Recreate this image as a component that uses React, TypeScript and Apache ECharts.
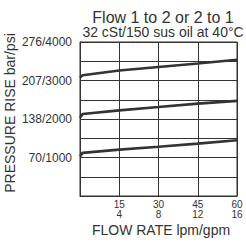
import React, { useEffect, useRef } from "react";
import * as echarts from "echarts";

const flowLpm = [0, 1, 15, 30, 45, 60];
const topCurve = [3080, 3135, 3260, 3350, 3440, 3540];
const midCurve = [2030, 2130, 2225, 2310, 2400, 2470];
const lowCurve = [1030, 1120, 1205, 1280, 1360, 1450];

const xTicks = [15, 30, 45, 60];
const xTickLpm = ["15", "30", "45", "60"];
const xTickGpm = ["4", "8", "12", "16"];
const yTicks = [1000, 2000, 3000, 4000];
const yTickLabels = ["70/1000", "138/2000", "207/3000", "276/4000"];

const FONT = "Liberation Sans, Arial, sans-serif";
const INK = "#333333";

export default function App() {
  const ref = useRef<HTMLDivElement>(null);
  useEffect(() => {
    if (!ref.current) return;
    const chart = echarts.init(ref.current, undefined, { renderer: "svg" });
    const mk = (vals: number[]) => flowLpm.map((x, i) => [x, vals[i]]);
    const series = [topCurve, midCurve, lowCurve].map((v) => ({
      type: "line",
      data: mk(v),
      showSymbol: false,
      symbol: "none",
      lineStyle: { color: INK, width: 2.6 },
      silent: true,
    }));
    chart.setOption({
      animation: false,
      backgroundColor: "#ffffff",
      textStyle: { fontFamily: FONT },
      title: [
        {
          text: "Flow 1 to 2 or 2 to 1",
          left: 158,
          top: 4,
          textAlign: "center",
          textStyle: { fontSize: 16, fontWeight: "normal", color: INK, fontFamily: FONT },
        },
        {
          text: "32 cSt/150 sus oil at 40°C",
          left: 158,
          top: 20,
          textAlign: "center",
          textStyle: { fontSize: 14, fontWeight: "normal", color: INK, fontFamily: FONT },
        },
      ],
      grid: {
        left: 80,
        right: 9,
        top: 42,
        bottom: 51,
        show: true,
        borderColor: INK,
        borderWidth: 1,
        containLabel: false,
      },
      xAxis: {
        type: "value",
        min: 0,
        max: 60,
        interval: 15,
        axisLine: { show: true, lineStyle: { color: INK, width: 1 } },
        axisTick: { show: false },
        splitLine: { show: true, lineStyle: { color: INK, width: 1 } },
        axisLabel: {
          show: true,
          margin: 3,
          fontSize: 10,
          lineHeight: 10,
          color: INK,
          fontFamily: FONT,
          showMinLabel: false,
          formatter: (v: number) => {
            const i = xTicks.indexOf(v);
            return i >= 0 ? xTickLpm[i] + "\n" + xTickGpm[i] : "";
          },
        },
      },
      yAxis: {
        type: "value",
        min: 0,
        max: 4000,
        interval: 500,
        axisLine: { show: true, lineStyle: { color: INK, width: 1 } },
        axisTick: { show: false },
        splitLine: { show: true, lineStyle: { color: INK, width: 1 } },
        axisLabel: {
          show: true,
          margin: 8,
          fontSize: 12,
          color: INK,
          fontFamily: FONT,
          formatter: (v: number) => {
            const i = yTicks.indexOf(v);
            return i >= 0 ? yTickLabels[i] : "";
          },
        },
      },
      graphic: [
        {
          type: "text",
          x: 10,
          y: 113,
          rotation: Math.PI / 2,
          style: {
            text: "PRESSURE RISE bar/psi",
            fontSize: 14,
            fontFamily: FONT,
            fill: INK,
            align: "center",
            verticalAlign: "middle",
          },
        },
        {
          type: "text",
          x: 161,
          y: 230,
          style: {
            text: "FLOW RATE lpm/gpm",
            fontSize: 14,
            fontFamily: FONT,
            fill: INK,
            align: "center",
            verticalAlign: "middle",
          },
        },
      ],
      series,
    });
    return () => chart.dispose();
  }, []);
  return (
    <div
      ref={ref}
      style={{ width: 246, height: 247, position: "fixed", left: 0, top: 0 }}
    />
  );
}
